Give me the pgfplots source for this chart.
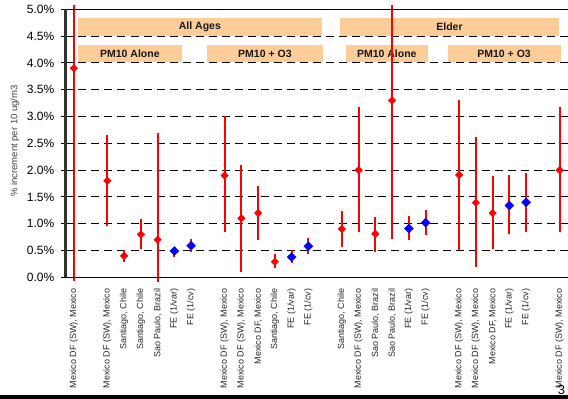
\documentclass[border=0pt]{standalone}
\usepackage{fontspec}
\setmainfont{Liberation Sans}
\usepackage{pgfplots}
\pgfplotsset{compat=1.18}
\usepackage{pgfplotstable}

\definecolor{peach}{RGB}{252,204,153}
\definecolor{axisgray}{RGB}{50,50,50}

% x = slot index, y = estimate (%), lo/hi = confidence limits (%)
\pgfplotstableread{
x  y     lo     hi
0  3.90  -0.07  5.08
2  1.80   0.96  2.66
3  0.40   0.29  0.51
4  0.80   0.52  1.08
5  0.70  -0.08  2.70
9  1.90   0.84  3.00
10 1.10   0.10  2.10
11 1.20   0.70  1.70
12 0.29   0.17  0.43
16 0.90   0.57  1.24
17 2.00   0.84  3.18
18 0.81   0.47  1.13
19 3.30   0.71  5.08
23 1.91   0.51  3.31
24 1.39   0.20  2.62
25 1.20   0.52  1.89
29 2.00   0.84  3.18
}\citydata

\pgfplotstableread{
x  y     lo     hi
6  0.49   0.38  0.57
7  0.59   0.47  0.71
13 0.38   0.26  0.50
14 0.58   0.43  0.73
20 0.91   0.70  1.14
21 1.02   0.78  1.26
26 1.34   0.80  1.90
27 1.40   0.84  1.95
}\pooleddata

% one thin filled confidence strip per row of a table
\newcommand{\cibars}[1]{%
  \pgfplotstablegetrowsof{#1}%
  \pgfmathtruncatemacro{\lastrow}{\pgfplotsretval-1}%
  \pgfplotsforeachungrouped \r in {0,...,\lastrow}{%
    \pgfplotstablegetelem{\r}{x}\of{#1}\let\bx\pgfplotsretval
    \pgfplotstablegetelem{\r}{lo}\of{#1}\let\blo\pgfplotsretval
    \pgfplotstablegetelem{\r}{hi}\of{#1}\let\bhi\pgfplotsretval
    \pgfmathsetmacro{\bxl}{\bx-0.066}%
    \pgfmathsetmacro{\bxr}{\bx+0.066}%
    \edef\cicmd{\noexpand\addplot[fill=red, draw=none, mark=none, forget plot]
      coordinates {(\bxl,\blo) (\bxr,\blo) (\bxr,\bhi) (\bxl,\bhi) (\bxl,\blo)} -- cycle;}%
    \cicmd
  }%
}

\begin{document}
\begin{tikzpicture}
\useasboundingbox (0,0) rectangle (568pt,399pt);
\begin{axis}[
  at={(65.5pt,121.7pt)}, anchor=south west,
  scale only axis, width=502.5pt, height=268pt,
  xmin=-0.5, xmax=29.5, ymin=0, ymax=5,
  clip=false,
  axis line style={draw=none},
  ytick={0,0.5,1,1.5,2,2.5,3,3.5,4,4.5,5},
  yticklabels={0.0\%,0.5\%,1.0\%,1.5\%,2.0\%,2.5\%,3.0\%,3.5\%,4.0\%,4.5\%,5.0\%},
  ytick pos=left, tick align=outside, major tick length=4.5pt,
  y tick style={black, line width=0.8pt},
  yticklabel style={font=\fontsize{12}{12}\selectfont, black, inner sep=0pt, xshift=-6.5pt},
  ymajorgrids,
  grid style={black, line width=0.9pt, dash pattern=on 8pt off 5pt},
  xtick={0,2,3,4,5,6,7,9,10,11,12,13,14,16,17,18,19,20,21,23,24,25,26,27,29},
  xticklabels={{Mexico DF (SW), Mexico},{Mexico DF (SW), Mexico},{Santiago, Chile},{Santiago, Chile},{Sao Paulo, Brazil},{FE (1/var)},{FE (1/cv)},
    {Mexico DF (SW), Mexico},{Mexico DF (SW), Mexico},{Mexico DF, Mexico},{Santiago, Chile},{FE (1/var)},{FE (1/cv)},
    {Santiago, Chile},{Mexico DF (SW), Mexico},{Sao Paulo, Brazil},{Sao Paulo, Brazil},{FE (1/var)},{FE (1/cv)},
    {Mexico DF (SW), Mexico},{Mexico DF (SW), Mexico},{Mexico DF, Mexico},{FE (1/var)},{FE (1/cv)},
    {Mexico DF (SW), Mexico}},
  x tick style={draw=none},
  xticklabel style={rotate=90, anchor=east, inner sep=0pt, font=\fontsize{9}{9}\selectfont, black!85},
  xticklabel shift=6.5pt,
]
% group header bands
\fill[peach] (axis cs:0.26,4.507) rectangle (axis cs:14.79,4.832);
\fill[peach] (axis cs:15.88,4.507) rectangle (axis cs:28.97,4.832);
\fill[peach] (axis cs:0.26,4.011) rectangle (axis cs:6.43,4.334);
\fill[peach] (axis cs:7.96,4.011) rectangle (axis cs:14.85,4.334);
\fill[peach] (axis cs:16.24,4.011) rectangle (axis cs:21.12,4.334);
\fill[peach] (axis cs:22.31,4.011) rectangle (axis cs:29.06,4.334);
\begin{scope}[font=\fontsize{10.5}{10.5}\selectfont\bfseries, text=black!90]
\node at (axis cs:7.525,4.67) {All Ages};
\node at (axis cs:22.425,4.67) {Elder};
\node at (axis cs:3.345,4.172) {PM10 Alone};
\node at (axis cs:11.405,4.172) {PM10 + O3};
\node at (axis cs:18.68,4.172) {PM10 Alone};
\node at (axis cs:25.685,4.172) {PM10 + O3};
\end{scope}

\cibars{\citydata}
\cibars{\pooleddata}

\addplot[only marks, mark=square*, mark size=2.7pt,
  mark options={rotate=45, fill=red, draw=red, line width=0.3pt}]
  table[x=x, y=y] {\citydata};
\addplot[only marks, mark=square*, mark size=3.2pt,
  mark options={rotate=45, fill=blue, draw=blue, line width=0.3pt}]
  table[x=x, y=y] {\pooleddata};

% frame: heavy left spine, thin top and bottom
\draw[black, line width=0.9pt] (rel axis cs:0,1) -- (rel axis cs:1,1);
\draw[black, line width=1.1pt] (rel axis cs:0,0) -- (rel axis cs:1,0);
\draw[axisgray, line width=2.4pt] (rel axis cs:0,0) -- (rel axis cs:0,1);
\end{axis}
\node[rotate=90, font=\fontsize{9.5}{9.5}\selectfont, text=black!75] at (15pt,258pt) {\% increment per 10 ug/m3};
\fill[black] (0,0) rectangle (568pt,3.5pt);
\node[font=\fontsize{13}{13}\selectfont, inner sep=0pt] at (561.5pt,8.5pt) {3};
\end{tikzpicture}
\end{document}
